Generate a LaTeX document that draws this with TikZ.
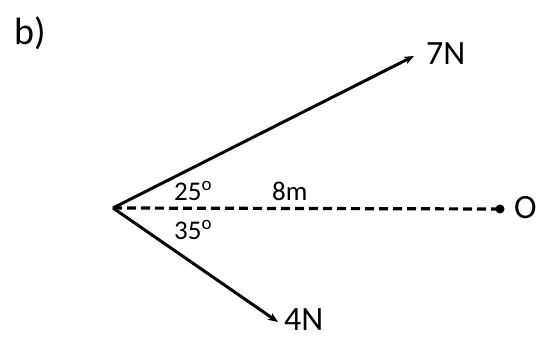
\documentclass[tikz,border=0pt]{standalone}
\usepackage{fontspec}
\setmainfont{Carlito}
\usetikzlibrary{arrows.meta}
\begin{document}
\begin{tikzpicture}[x=1pt,y=-1pt,
  vec/.style={line width=3pt,-{Stealth[length=10pt,width=8pt]}},
  big/.style={font=\fontsize{34}{36}\selectfont,inner sep=0pt},
  small/.style={font=\fontsize{27}{30}\selectfont,inner sep=0pt}]
\useasboundingbox (0,0) rectangle (539,338);
\coordinate (P) at (113,208);
\coordinate (A) at (414,56);
\coordinate (B) at (278,322);
\coordinate (D) at (500,209);
\draw[vec] (P) -- (A);
\draw[vec] (P) -- (B);
\draw[line width=3.2pt,dash pattern=on 9pt off 5pt] (P) -- (D);
\fill (D) circle (4.5pt);
\node[big,anchor=base west] (n7) at (426,64) {7N};
\node[big,anchor=base west] (n4) at (284,330) {4N};
\node[big,anchor=base west] (nO) at (514,218) {O};
\node[font=\fontsize{38}{40}\selectfont,inner sep=0pt,anchor=base west] (lb) at (14,44) {b)};
\node[small,anchor=base west] (a25) at (174,200) {25\textsuperscript{o}};
\node[small,anchor=base west] (a35) at (174,239) {35\textsuperscript{o}};
\node[small,anchor=base west] (m8) at (272,200) {8m};
\end{tikzpicture}
\end{document}
